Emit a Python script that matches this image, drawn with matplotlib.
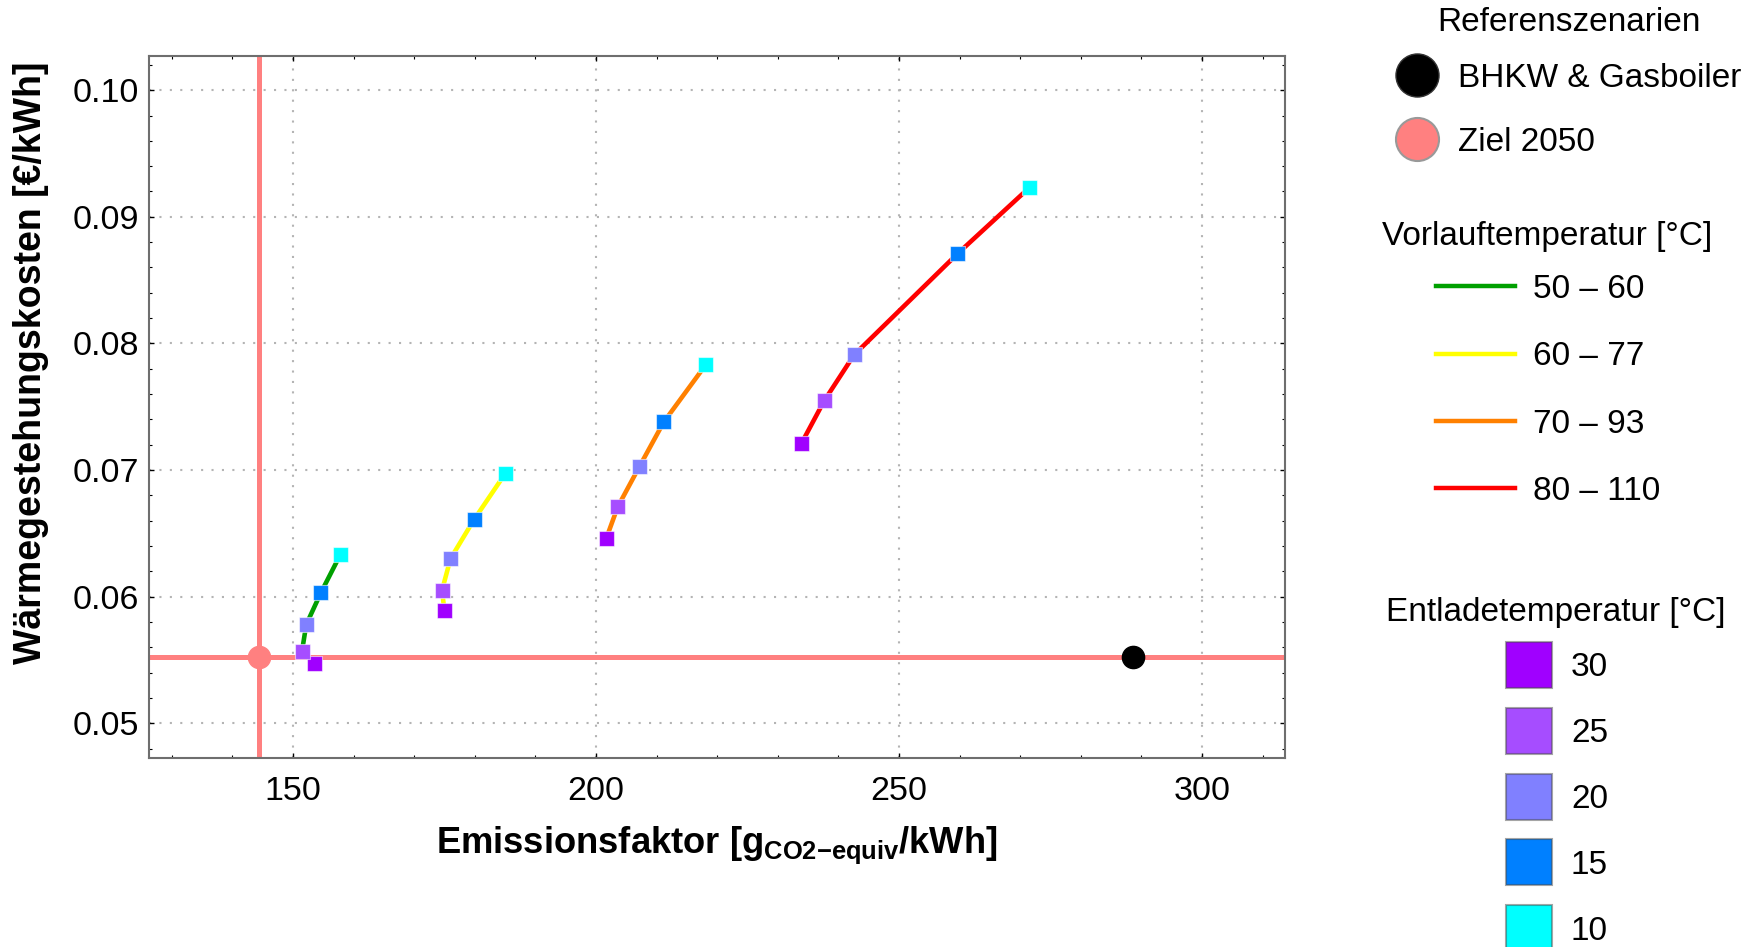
import matplotlib
matplotlib.use("Agg")
import matplotlib.pyplot as plt
from matplotlib.lines import Line2D
from matplotlib.ticker import MultipleLocator, FormatStrFormatter

plt.rcParams['font.family'] = ['Liberation Sans', 'DejaVu Sans']
plt.rcParams['mathtext.fontset'] = 'custom'
plt.rcParams['mathtext.rm'] = 'Liberation Sans'
plt.rcParams['mathtext.bf'] = 'Liberation Sans:bold'

# ---------------- data ----------------
entlade_temps = [30, 25, 20, 15, 10]
entlade_colors = ['#A000FF', '#A64DFF', '#8080FF', '#0080FF', '#00FFFF']

vorlauf_labels = ['50 – 60', '60 – 77', '70 – 93', '80 – 110']
vorlauf_colors = ['#00A000', '#FFFF00', '#FF8000', '#FF0000']

# emission factor (g/kWh) per Entladetemperatur 30,25,20,15,10
em_50_60 = [153.6, 151.5, 152.2, 154.6, 157.8]
em_60_77 = [175.0, 174.6, 176.0, 179.9, 185.0]
em_70_93 = [201.7, 203.6, 207.2, 211.2, 218.1]
em_80_110 = [233.9, 237.7, 242.6, 259.7, 271.5]

# heat generation cost (€/kWh)
cost_50_60 = [0.0547, 0.0557, 0.0578, 0.0603, 0.0633]
cost_60_77 = [0.0589, 0.0605, 0.0630, 0.0661, 0.0697]
cost_70_93 = [0.0646, 0.0671, 0.0703, 0.0738, 0.0783]
cost_80_110 = [0.0721, 0.0755, 0.0791, 0.0871, 0.0923]

ref_labels = ['BHKW & Gasboiler', 'Ziel 2050']
ref_emission = [288.7, 144.4]
ref_cost = [0.0552, 0.0552]
ref_colors = ['#000000', '#FF8080']

legend_titles = ['Referenszenarien', 'Vorlauftemperatur [°C]', 'Entladetemperatur [°C]']

emissions = [em_50_60, em_60_77, em_70_93, em_80_110]
costs = [cost_50_60, cost_60_77, cost_70_93, cost_80_110]

# ---------------- figure ----------------
W, H = 1758, 947
fig = plt.figure(figsize=(W / 100, H / 100), dpi=100)
ax = fig.add_axes([149/W, 1 - 757.5/H, (1285-149)/W, (757.5-56)/H])

ax.set_xlim(126.25, 313.7)
ax.set_ylim(0.0473, 0.1027)

# target reference lines
ax.axhline(ref_cost[1], color=ref_colors[1], lw=3.6, zorder=2)
ax.axvline(ref_emission[1], color=ref_colors[1], lw=3.6, zorder=2)

for xs, ys, col in zip(emissions, costs, vorlauf_colors):
    ax.plot(xs, ys, color=col, lw=3.3, solid_capstyle='butt', zorder=3)
    ax.scatter(xs, ys, c=entlade_colors, marker='s', s=10.8**2,
               edgecolors=(1, 1, 1, 0.55), linewidths=0.8, zorder=4)

ax.plot(ref_emission[0], ref_cost[0], 'o', color=ref_colors[0], ms=16, zorder=5)
ax.plot(ref_emission[1], ref_cost[1], 'o', color=ref_colors[1], ms=16, zorder=5)

# axes styling
ax.xaxis.set_major_locator(MultipleLocator(50))
ax.xaxis.set_minor_locator(MultipleLocator(10))
ax.yaxis.set_major_locator(MultipleLocator(0.01))
ax.yaxis.set_minor_locator(MultipleLocator(0.002))
ax.yaxis.set_major_formatter(FormatStrFormatter('%.2f'))
ax.grid(True, which='major', color='#b4b4b4', lw=1.5, ls=(0, (1, 4)), zorder=0)
ax.set_axisbelow(True)
ax.tick_params(which='both', direction='in', top=True, right=True, color='black')
ax.tick_params(which='major', length=3.5, width=1.0, labelsize=24.5)
ax.tick_params(which='minor', length=2.0, width=0.8)
ax.tick_params(axis='x', which='major', pad=13)
ax.tick_params(axis='y', which='major', pad=7)
for sp in ax.spines.values():
    sp.set_color('#6e6e6e')
    sp.set_linewidth(1.5)

ax.set_xlabel(r'Emissionsfaktor [g$_{\mathbf{CO2{-}equiv}}$/kWh]', fontsize=26.2, fontweight='bold')
ax.xaxis.set_label_coords(0.5, -0.095)
ax.set_ylabel('Wärmegestehungskosten [€/kWh]', fontsize=27, fontweight='bold')
ax.yaxis.set_label_coords(-0.088, 0.5624)

# ---------------- legends ----------------
common = dict(loc='upper center', frameon=False, fontsize=24, borderpad=0, borderaxespad=0)

h1 = [Line2D([], [], ls='none', marker='o', ms=31, color=ref_colors[0], mec='#333333', mew=1),
      Line2D([], [], ls='none', marker='o', ms=31, color=ref_colors[1], mec='#999999', mew=1.5)]
leg1 = fig.legend(h1, ref_labels, bbox_to_anchor=(1568/W, 1 - 63/H),
                  handlelength=1.35, handletextpad=0.55, labelspacing=0.99, **common)
fig.text(1569/W, 1 - 22.5/H, legend_titles[0], ha='center', va='center', fontsize=24)

h2 = [Line2D([], [], color=c, lw=3.2) for c in vorlauf_colors]
leg2 = fig.legend(h2, vorlauf_labels, bbox_to_anchor=(1548/W, 1 - 274/H),
                  handlelength=2.37, handletextpad=0.55, labelspacing=1.09, **common)
fig.text(1547/W, 1 - 236.5/H, legend_titles[1], ha='center', va='center', fontsize=24)

h3 = [Line2D([], [], ls='none', marker='s', ms=33, color=c, mec=(0.3, 0.3, 0.3, 0.5), mew=1.5)
      for c in entlade_colors]
leg3 = fig.legend(h3, [str(t) for t in entlade_temps], bbox_to_anchor=(1557/W, 1 - 652.5/H),
                  handlelength=1.38, handletextpad=0.57, labelspacing=1.045, **common)
fig.text(1556/W, 1 - 612/H, legend_titles[2], ha='center', va='center', fontsize=24)

fig.savefig('out.png', dpi=100)
